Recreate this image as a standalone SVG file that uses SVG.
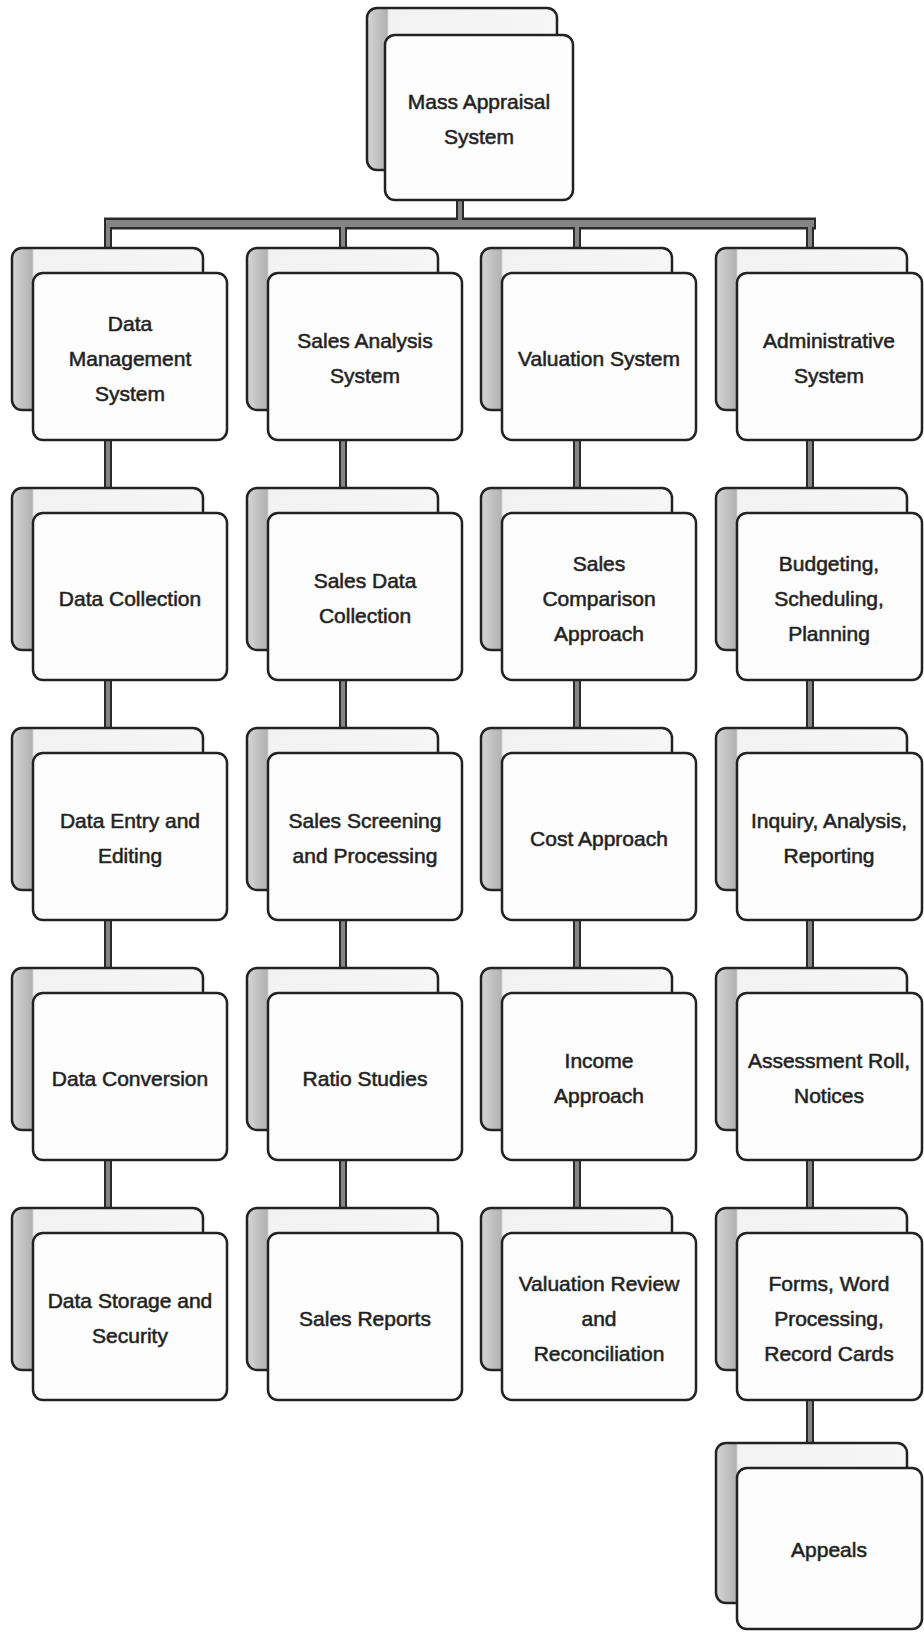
<svg xmlns="http://www.w3.org/2000/svg" width="924" height="1632" viewBox="0 0 924 1632">
<defs>
<linearGradient id="backGrad" x1="0" y1="0" x2="1" y2="0">
<stop offset="0" stop-color="#d6d6d6"/>
<stop offset="0.05" stop-color="#c4c4c4"/>
<stop offset="0.105" stop-color="#b2b2b2"/>
<stop offset="0.115" stop-color="#f2f2f2"/>
<stop offset="1" stop-color="#f6f6f6"/>
</linearGradient>
</defs>
<style>
.back{fill:url(#backGrad);stroke:#222;stroke-width:2.5}
.front{fill:#fdfdfd;stroke:#222;stroke-width:2.5}
.lbl{font-family:"Liberation Sans",Arial,sans-serif;font-size:21px;fill:#1a1a1a;stroke:#333;stroke-width:0.6;text-anchor:middle}
.cOut{fill:none;stroke:#2a2a2a;stroke-linecap:butt}
.cIn{fill:none;stroke:#858585;stroke-linecap:butt}
</style>
<rect width="924" height="1632" fill="#ffffff"/>

<g id="connectors">
<path class="cOut" stroke-width="12" d="M104,223.5 H816"/>
<path class="cOut" stroke-width="8" d="M460,195 V223 M108,223 V252 M343,223 V252 M577,223 V252 M810,223 V252 M108,436 V492 M108,676 V732 M108,916 V972 M108,1156 V1212 M343,436 V492 M343,676 V732 M343,916 V972 M343,1156 V1212 M577,436 V492 M577,676 V732 M577,916 V972 M577,1156 V1212 M810,436 V492 M810,676 V732 M810,916 V972 M810,1156 V1212 M810,1396 V1447"/>
<path class="cIn" stroke-width="4" d="M460,195 V223 M108,223 V252 M343,223 V252 M577,223 V252 M810,223 V252 M108,436 V492 M108,676 V732 M108,916 V972 M108,1156 V1212 M343,436 V492 M343,676 V732 M343,916 V972 M343,1156 V1212 M577,436 V492 M577,676 V732 M577,916 V972 M577,1156 V1212 M810,436 V492 M810,676 V732 M810,916 V972 M810,1156 V1212 M810,1396 V1447"/>
<path class="cIn" stroke-width="7" d="M106,223.5 H814"/>
</g>

<g id="node-mass-appraisal">
<rect class="back" x="367" y="8" width="190" height="162" rx="10"/>
<rect class="front" x="385" y="35" width="188" height="165" rx="10"/>
<text class="lbl"><tspan x="479" y="109">Mass Appraisal</tspan><tspan x="479" y="144">System</tspan></text>
</g>

<!-- Column 1 -->
<g id="node-data-management">
<rect class="back" x="12" y="248" width="191" height="162" rx="10"/>
<rect class="front" x="33" y="273" width="194" height="167" rx="10"/>
<text class="lbl"><tspan x="130" y="330.5">Data</tspan><tspan x="130" y="365.5">Management</tspan><tspan x="130" y="400.5">System</tspan></text>
</g>
<g id="node-data-collection">
<rect class="back" x="12" y="488" width="191" height="162" rx="10"/>
<rect class="front" x="33" y="513" width="194" height="167" rx="10"/>
<text class="lbl"><tspan x="130" y="605.5">Data Collection</tspan></text>
</g>
<g id="node-data-entry">
<rect class="back" x="12" y="728" width="191" height="162" rx="10"/>
<rect class="front" x="33" y="753" width="194" height="167" rx="10"/>
<text class="lbl"><tspan x="130" y="828">Data Entry and</tspan><tspan x="130" y="863">Editing</tspan></text>
</g>
<g id="node-data-conversion">
<rect class="back" x="12" y="968" width="191" height="162" rx="10"/>
<rect class="front" x="33" y="993" width="194" height="167" rx="10"/>
<text class="lbl"><tspan x="130" y="1085.5">Data Conversion</tspan></text>
</g>
<g id="node-data-storage">
<rect class="back" x="12" y="1208" width="191" height="162" rx="10"/>
<rect class="front" x="33" y="1233" width="194" height="167" rx="10"/>
<text class="lbl"><tspan x="130" y="1308">Data Storage and</tspan><tspan x="130" y="1343">Security</tspan></text>
</g>

<!-- Column 2 -->
<g id="node-sales-analysis">
<rect class="back" x="247" y="248" width="191" height="162" rx="10"/>
<rect class="front" x="268" y="273" width="194" height="167" rx="10"/>
<text class="lbl"><tspan x="365" y="348">Sales Analysis</tspan><tspan x="365" y="383">System</tspan></text>
</g>
<g id="node-sales-data-collection">
<rect class="back" x="247" y="488" width="191" height="162" rx="10"/>
<rect class="front" x="268" y="513" width="194" height="167" rx="10"/>
<text class="lbl"><tspan x="365" y="588">Sales Data</tspan><tspan x="365" y="623">Collection</tspan></text>
</g>
<g id="node-sales-screening">
<rect class="back" x="247" y="728" width="191" height="162" rx="10"/>
<rect class="front" x="268" y="753" width="194" height="167" rx="10"/>
<text class="lbl"><tspan x="365" y="828">Sales Screening</tspan><tspan x="365" y="863">and Processing</tspan></text>
</g>
<g id="node-ratio-studies">
<rect class="back" x="247" y="968" width="191" height="162" rx="10"/>
<rect class="front" x="268" y="993" width="194" height="167" rx="10"/>
<text class="lbl"><tspan x="365" y="1085.5">Ratio Studies</tspan></text>
</g>
<g id="node-sales-reports">
<rect class="back" x="247" y="1208" width="191" height="162" rx="10"/>
<rect class="front" x="268" y="1233" width="194" height="167" rx="10"/>
<text class="lbl"><tspan x="365" y="1325.5">Sales Reports</tspan></text>
</g>

<!-- Column 3 -->
<g id="node-valuation-system">
<rect class="back" x="481" y="248" width="191" height="162" rx="10"/>
<rect class="front" x="502" y="273" width="194" height="167" rx="10"/>
<text class="lbl"><tspan x="599" y="365.5">Valuation  System</tspan></text>
</g>
<g id="node-sales-comparison">
<rect class="back" x="481" y="488" width="191" height="162" rx="10"/>
<rect class="front" x="502" y="513" width="194" height="167" rx="10"/>
<text class="lbl"><tspan x="599" y="570.5">Sales</tspan><tspan x="599" y="605.5">Comparison</tspan><tspan x="599" y="640.5">Approach</tspan></text>
</g>
<g id="node-cost-approach">
<rect class="back" x="481" y="728" width="191" height="162" rx="10"/>
<rect class="front" x="502" y="753" width="194" height="167" rx="10"/>
<text class="lbl"><tspan x="599" y="845.5">Cost Approach</tspan></text>
</g>
<g id="node-income-approach">
<rect class="back" x="481" y="968" width="191" height="162" rx="10"/>
<rect class="front" x="502" y="993" width="194" height="167" rx="10"/>
<text class="lbl"><tspan x="599" y="1068">Income</tspan><tspan x="599" y="1103">Approach</tspan></text>
</g>
<g id="node-valuation-review">
<rect class="back" x="481" y="1208" width="191" height="162" rx="10"/>
<rect class="front" x="502" y="1233" width="194" height="167" rx="10"/>
<text class="lbl"><tspan x="599" y="1290.5">Valuation  Review</tspan><tspan x="599" y="1325.5">and</tspan><tspan x="599" y="1360.5">Reconciliation</tspan></text>
</g>

<!-- Column 4 -->
<g id="node-administrative">
<rect class="back" x="716" y="248" width="191" height="162" rx="10"/>
<rect class="front" x="737" y="273" width="185" height="167" rx="10"/>
<text class="lbl"><tspan x="829" y="348">Administrative</tspan><tspan x="829" y="383">System</tspan></text>
</g>
<g id="node-budgeting">
<rect class="back" x="716" y="488" width="191" height="162" rx="10"/>
<rect class="front" x="737" y="513" width="185" height="167" rx="10"/>
<text class="lbl"><tspan x="829" y="570.5">Budgeting,</tspan><tspan x="829" y="605.5">Scheduling,</tspan><tspan x="829" y="640.5">Planning</tspan></text>
</g>
<g id="node-inquiry">
<rect class="back" x="716" y="728" width="191" height="162" rx="10"/>
<rect class="front" x="737" y="753" width="185" height="167" rx="10"/>
<text class="lbl"><tspan x="829" y="828">Inquiry, Analysis,</tspan><tspan x="829" y="863">Reporting</tspan></text>
</g>
<g id="node-assessment-roll">
<rect class="back" x="716" y="968" width="191" height="162" rx="10"/>
<rect class="front" x="737" y="993" width="185" height="167" rx="10"/>
<text class="lbl"><tspan x="829" y="1068">Assessment Roll,</tspan><tspan x="829" y="1103">Notices</tspan></text>
</g>
<g id="node-forms">
<rect class="back" x="716" y="1208" width="191" height="162" rx="10"/>
<rect class="front" x="737" y="1233" width="185" height="167" rx="10"/>
<text class="lbl"><tspan x="829" y="1290.5">Forms, Word</tspan><tspan x="829" y="1325.5">Processing,</tspan><tspan x="829" y="1360.5">Record Cards</tspan></text>
</g>
<g id="node-appeals">
<rect class="back" x="716" y="1443" width="191" height="160" rx="10"/>
<rect class="front" x="737" y="1468" width="185" height="161" rx="10"/>
<text class="lbl"><tspan x="829" y="1557">Appeals</tspan></text>
</g>
</svg>
